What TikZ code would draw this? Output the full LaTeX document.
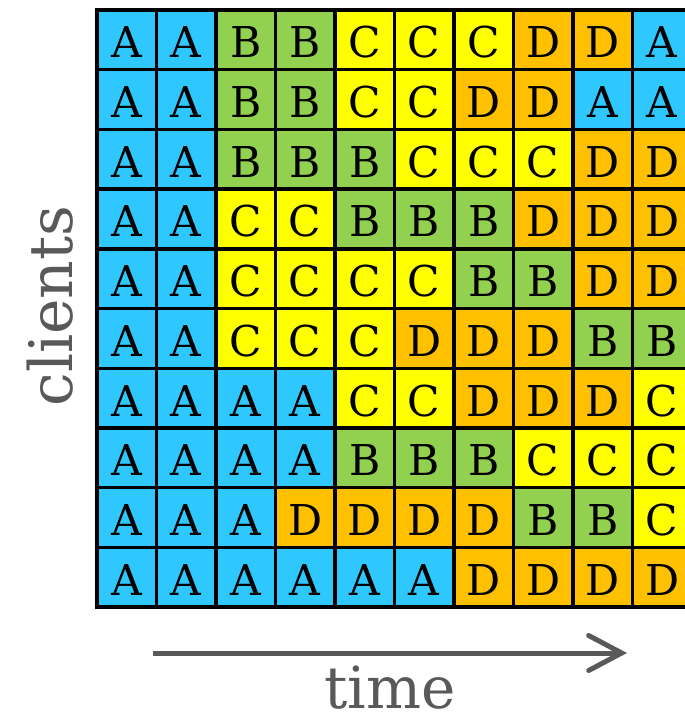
\documentclass[tikz,border=0pt]{standalone}
\usepackage{fontspec}
\setmainfont{DejaVu Serif}
\usetikzlibrary{arrows.meta}
\definecolor{cA}{HTML}{2EC8FF}
\definecolor{cB}{HTML}{92D050}
\definecolor{cC}{HTML}{FFFF00}
\definecolor{cD}{HTML}{FFC000}
\definecolor{axisgray}{HTML}{595959}
\tikzset{
  cell/.style={draw=black, line width=3.4pt, inner sep=0pt,
    minimum width=59.5pt, minimum height=59.7pt,
    text height=36pt, text depth=0pt,
    font=\fontsize{42.5}{42.5}\selectfont},
  axislabel/.style={text=axisgray, inner sep=0pt,
    font=\fontsize{60}{60}\selectfont},
  axisline/.style={draw=axisgray, line width=5pt,
    -{Straight Barb[length=33pt, width=35pt, line cap=round]}}
}
\begin{document}
\begin{tikzpicture}[x=1pt, y=-1pt]
\useasboundingbox (0,0) rectangle (685,723);
\fill[white] (0,0) rectangle (685,723);
% schedule grid: one row per client, one column per time slot
\begin{scope}
  \clip (0,0) rectangle (685,723);
  \foreach [count=\i from 0] \row in {
      {A,A,B,B,C,C,C,D,D,A},
      {A,A,B,B,C,C,D,D,A,A},
      {A,A,B,B,B,C,C,C,D,D},
      {A,A,C,C,B,B,B,D,D,D},
      {A,A,C,C,C,C,B,B,D,D},
      {A,A,C,C,C,D,D,D,B,B},
      {A,A,A,A,C,C,D,D,D,C},
      {A,A,A,A,B,B,B,C,C,C},
      {A,A,A,D,D,D,D,B,B,C},
      {A,A,A,A,A,A,D,D,D,D}} {
    \foreach [count=\j from 0] \l in \row {
      \node[cell, fill=c\l] (c-\i-\j)
        at ({97+59.5*\j+29.75}, {10+59.7*\i+29.85}) {\l};
    }
  }
\end{scope}
% axes
\node[axislabel, rotate=90, anchor=base] (clients) at (72,306) {clients};
\coordinate (t0) at (153,653);
\coordinate (t1) at (627,653);
\draw[axisline] (t0) -- (t1);
\node[axislabel, anchor=base, font=\fontsize{58}{58}\selectfont]
  (time) at (390,708) {time};
\end{tikzpicture}
\end{document}
